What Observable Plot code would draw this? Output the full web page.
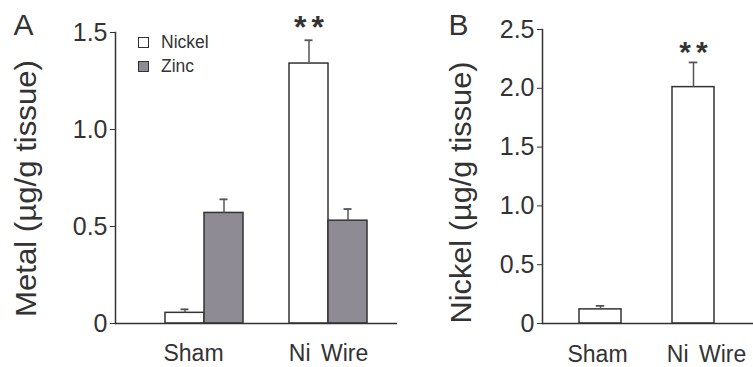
<!DOCTYPE html>
<html><head><meta charset="utf-8">
<script src="https://cdn.jsdelivr.net/npm/d3@7"></script>
<script src="https://cdn.jsdelivr.net/npm/@observablehq/plot@0.6"></script>
<style>
body{margin:0;background:#fff}
#wrap{position:relative;width:753px;height:367px;overflow:hidden;font-family:"Liberation Sans",Arial,sans-serif;color:#333}
#wrap svg{position:absolute;top:0}
#legend{position:absolute;left:138px;top:31px;font-size:17.5px;color:#333}
#legend .row{height:23.5px;display:flex;align-items:center}
#legend .sw{display:inline-block;width:9px;height:9px;border:1.5px solid #333;margin-right:12px}
</style></head><body><div id="wrap"></div>
<script>
// ---- data ----
const groups = ["Sham", "Ni Wire"];
const metalNickel = [0.055, 1.34];
const metalNickelErr = [0.018, 0.12];
const metalZinc = [0.57, 0.53];
const metalZincErr = [0.07, 0.06];
const nickelTissue = [0.12, 2.01];
const nickelTissueErr = [0.03, 0.21];
const signif = ["", "**"];
const yTicksA = [0, 0.5, 1.0, 1.5];
const yTicksB = [0, 0.5, 1.0, 1.5, 2.0, 2.5];
const seriesNames = ["Nickel", "Zinc"];
const yLabelA = "Metal (µg/g tissue)";
const yLabelB = "Nickel (µg/g tissue)";

const dataA = groups.map((g, i) => ({group: g, nickel: metalNickel[i], nickelErr: metalNickelErr[i], zinc: metalZinc[i], zincErr: metalZincErr[i], sig: signif[i]}));
const dataB = groups.map((g, i) => ({group: g, nickel: nickelTissue[i], err: nickelTissueErr[i], sig: signif[i]}));

const ink = "#333";
const errInk = "#555";
const zincFill = "#8f8b94";
const font = "'Liberation Sans', Arial, sans-serif";
const fmt = d => d === 0 ? "0" : d.toFixed(1);
const wrap = document.getElementById("wrap");

const plotA = Plot.plot({
  width: 400, height: 367,
  marginLeft: 115, marginRight: 3, marginTop: 32, marginBottom: 44,
  style: {fontFamily: font, color: ink, background: "transparent", overflow: "visible"},
  x: {domain: groups, range: [165, 367], paddingInner: 0.371, paddingOuter: 0, axis: null},
  y: {domain: [0, 1.5], axis: null},
  marks: [
    Plot.barY(dataA, {x: "group", y: "nickel", fill: "white", stroke: ink, strokeWidth: 1.5, insetRight: 39}),
    Plot.barY(dataA, {x: "group", y: "zinc", fill: zincFill, stroke: ink, strokeWidth: 1.5, insetLeft: 39}),
    Plot.ruleX(dataA, {x: "group", y1: "nickel", y2: d => d.nickel + d.nickelErr, dx: -19.5, stroke: errInk, strokeWidth: 1.5}),
    Plot.tickY(dataA, {x: "group", y: d => d.nickel + d.nickelErr, insetLeft: 15.5, insetRight: 54.5, stroke: errInk, strokeWidth: 1.8}),
    Plot.ruleX(dataA, {x: "group", y1: "zinc", y2: d => d.zinc + d.zincErr, dx: 19.5, stroke: errInk, strokeWidth: 1.5}),
    Plot.tickY(dataA, {x: "group", y: d => d.zinc + d.zincErr, insetLeft: 54.5, insetRight: 15.5, stroke: errInk, strokeWidth: 1.8}),
    Plot.text(dataA, {x: "group", y: d => d.nickel + d.nickelErr, text: "sig", dx: -17, dy: -2, lineAnchor: "bottom", fontSize: 32, fontWeight: "bold", fill: ink}),
    Plot.ruleY([0], {stroke: ink, strokeWidth: 1.5}),
    Plot.frame({anchor: "left", stroke: ink, strokeWidth: 1.5}),
    Plot.axisY({ticks: yTicksA, tickFormat: fmt, tickSize: 5, tickPadding: 3, fontSize: 25, label: null}),
    Plot.axisX({ticks: ["Sham"], tickSize: 0, tickPadding: 21, fontSize: 23, dx: -11, label: null}),
    Plot.axisX({ticks: ["Ni Wire"], tickSize: 0, tickPadding: 21, fontSize: 23, dx: 0, label: null}),
    Plot.text([yLabelA], {text: d => d, frameAnchor: "left", textAnchor: "middle", rotate: -90, dx: -89, dy: 10.5, fontSize: 30, fill: ink}),
    Plot.text(["A"], {text: d => d, frameAnchor: "top-left", textAnchor: "start", lineAnchor: "top", dx: -102, dy: -19, fontSize: 30, fill: ink})
  ]
});
plotA.style.left = "0px";
wrap.appendChild(plotA);

const plotB = Plot.plot({
  width: 353, height: 367,
  marginLeft: 142, marginRight: 0, marginTop: 29, marginBottom: 44,
  style: {fontFamily: font, color: ink, background: "transparent", overflow: "visible"},
  x: {domain: groups, range: [179, 315], paddingInner: 0.548, paddingOuter: 0, axis: null},
  y: {domain: [0, 2.5], axis: null},
  marks: [
    Plot.barY(dataB, {x: "group", y: "nickel", fill: "white", stroke: ink, strokeWidth: 1.5}),
    Plot.ruleX(dataB, {x: "group", y1: "nickel", y2: d => d.nickel + d.err, stroke: errInk, strokeWidth: 1.5}),
    Plot.tickY(dataB, {x: "group", y: d => d.nickel + d.err, insetLeft: 16.7, insetRight: 16.7, stroke: errInk, strokeWidth: 1.8}),
    Plot.text(dataB, {x: "group", y: d => d.nickel + d.err, text: "sig", dx: 2.5, dy: 0, lineAnchor: "bottom", fontSize: 30, fontWeight: "bold", fill: ink}),
    Plot.ruleY([0], {stroke: ink, strokeWidth: 1.5}),
    Plot.frame({anchor: "left", stroke: ink, strokeWidth: 1.5}),
    Plot.axisY({ticks: yTicksB, tickFormat: fmt, tickSize: 5, tickPadding: 3, fontSize: 25, label: null}),
    Plot.axisX({ticks: ["Sham"], tickSize: 0, tickPadding: 22.5, fontSize: 23, dx: -3, label: null}),
    Plot.axisX({ticks: ["Ni Wire"], tickSize: 0, tickPadding: 22.5, fontSize: 23, dx: 13, label: null}),
    Plot.text([yLabelB], {text: d => d, frameAnchor: "left", textAnchor: "middle", rotate: -90, dx: -81, dy: 16, fontSize: 30, fill: ink}),
    Plot.text(["B"], {text: d => d, frameAnchor: "top-left", textAnchor: "start", lineAnchor: "top", dx: -94, dy: -16, fontSize: 30, fill: ink})
  ]
});
plotB.style.left = "400px";
wrap.appendChild(plotB);

// text tweaks
for (const svg of [plotA, plotB]) {
  svg.querySelectorAll("text").forEach(t => {
    const s = t.textContent;
    if (s === "**") t.setAttribute("letter-spacing", "5");
    if (s === "Ni Wire") t.setAttribute("word-spacing", "4");
    if (s === yLabelA) { t.setAttribute("textLength", 257); t.setAttribute("lengthAdjust", "spacingAndGlyphs"); }
    if (s === yLabelB) { t.setAttribute("textLength", 262); t.setAttribute("lengthAdjust", "spacingAndGlyphs"); }
  });
}

// legend
const legend = document.createElement("div");
legend.id = "legend";
const fills = ["white", zincFill];
seriesNames.forEach((n, i) => {
  const row = document.createElement("div");
  row.className = "row";
  const sw = document.createElement("span");
  sw.className = "sw";
  sw.style.background = fills[i];
  row.appendChild(sw);
  row.appendChild(document.createTextNode(n));
  legend.appendChild(row);
});
wrap.appendChild(legend);
</script></body></html>
